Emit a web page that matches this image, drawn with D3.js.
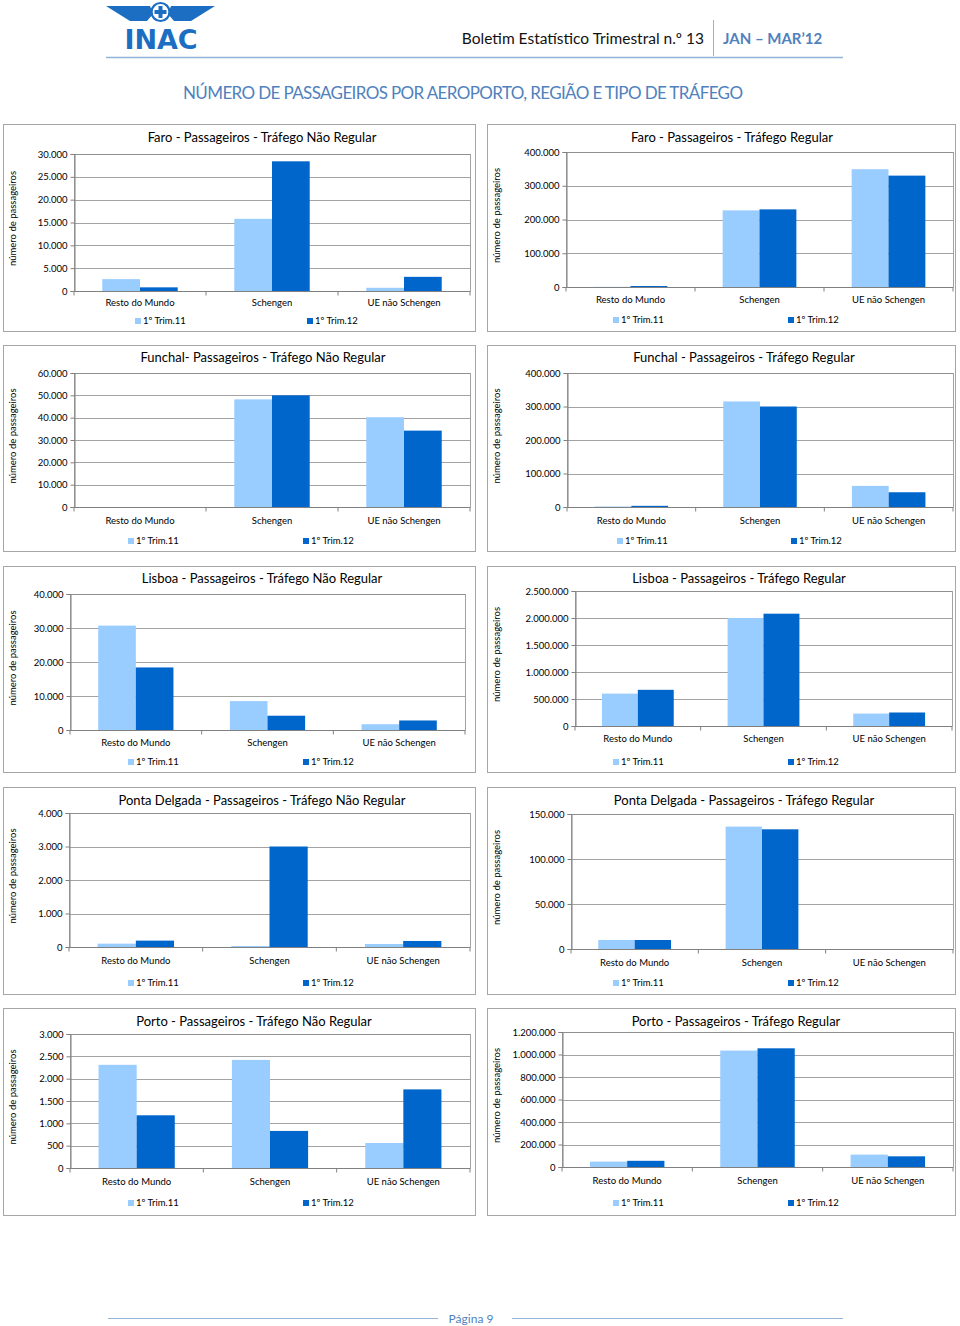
<!DOCTYPE html>
<html><head><meta charset="utf-8">
<script src="https://cdn.jsdelivr.net/npm/d3@7"></script>
<style>body{margin:0;background:#fff} svg{display:block} text{font-family:Lato,"Open Sans",sans-serif}</style>
</head><body><svg id="page" width="960" height="1326"></svg>
<script>
// ---------- DATA ----------
const categories = ["Resto do Mundo", "Schengen", "UE não Schengen"];
const seriesNames = ["1º Trim.11", "1º Trim.12"];
const chartTitles = [
  "Faro - Passageiros - Tráfego Não Regular",
  "Faro - Passageiros - Tráfego Regular",
  "Funchal- Passageiros - Tráfego Não Regular",
  "Funchal - Passageiros - Tráfego Regular",
  "Lisboa - Passageiros - Tráfego Não Regular",
  "Lisboa - Passageiros - Tráfego Regular",
  "Ponta Delgada - Passageiros - Tráfego Não Regular",
  "Ponta Delgada - Passageiros - Tráfego Regular",
  "Porto - Passageiros - Tráfego Não Regular",
  "Porto - Passageiros - Tráfego Regular"
];
// values per category: [Resto do Mundo, Schengen, UE não Schengen]
const faroNaoRegular11 = [2600, 15800, 700];
const faroNaoRegular12 = [800, 28400, 3100];
const faroRegular11 = [500, 227000, 349000];
const faroRegular12 = [3000, 230000, 330000];
const funchalNaoRegular11 = [0, 48200, 40200];
const funchalNaoRegular12 = [0, 50000, 34200];
const funchalRegular11 = [1500, 315000, 63000];
const funchalRegular12 = [3500, 300000, 44000];
const lisboaNaoRegular11 = [30700, 8500, 1700];
const lisboaNaoRegular12 = [18400, 4200, 2800];
const lisboaRegular11 = [600000, 2000000, 230000];
const lisboaRegular12 = [670000, 2080000, 250000];
const pdNaoRegular11 = [100, 30, 90];
const pdNaoRegular12 = [190, 3000, 180];
const pdRegular11 = [10000, 136000, 0];
const pdRegular12 = [10000, 133000, 0];
const portoNaoRegular11 = [2310, 2420, 560];
const portoNaoRegular12 = [1180, 830, 1760];
const portoRegular11 = [48000, 1035000, 110000];
const portoRegular12 = [55000, 1055000, 95000];
const yAxisMax = [30000, 400000, 60000, 400000, 40000, 2500000, 4000, 150000, 3000, 1200000];
const yAxisStep = [5000, 100000, 10000, 100000, 10000, 500000, 1000, 50000, 500, 200000];
const yAxisTitle = "número de passageiros";

const chartSeries = [
  [faroNaoRegular11, faroNaoRegular12], [faroRegular11, faroRegular12],
  [funchalNaoRegular11, funchalNaoRegular12], [funchalRegular11, funchalRegular12],
  [lisboaNaoRegular11, lisboaNaoRegular12], [lisboaRegular11, lisboaRegular12],
  [pdNaoRegular11, pdNaoRegular12], [pdRegular11, pdRegular12],
  [portoNaoRegular11, portoNaoRegular12], [portoRegular11, portoRegular12]
];

// ---------- LAYOUT ----------
const layout = [
  {box:[3,124,475,331], plot:[74,154,470,291], tx:262, ty:137, cy:303, ly:321, lx:[135,307]},
  {box:[487,124,955,331], plot:[566,152,953,287], tx:732, ty:137, cy:300, ly:320, lx:[613,788]},
  {box:[3,345,475,551], plot:[74,373,470,507], tx:263, ty:357, cy:521, ly:541, lx:[128,303]},
  {box:[487,345,955,551], plot:[567,373,953,507], tx:744, ty:357, cy:521, ly:541, lx:[617,791]},
  {box:[3,566,475,772], plot:[70,594,465,730], tx:262, ty:578, cy:743, ly:762, lx:[128,303]},
  {box:[487,566,955,772], plot:[575,591,952,726], tx:739, ty:578, cy:739, ly:762, lx:[613,788]},
  {box:[3,787,475,994], plot:[69,813,470,947], tx:262, ty:800, cy:961, ly:983, lx:[128,303]},
  {box:[487,787,955,994], plot:[571,814,953,949], tx:744, ty:800, cy:963, ly:983, lx:[613,788]},
  {box:[3,1008,475,1215], plot:[70,1034,470,1168], tx:254, ty:1021, cy:1182, ly:1203, lx:[128,303]},
  {box:[487,1008,955,1215], plot:[562,1032,953,1167], tx:736, ty:1021, cy:1181, ly:1203, lx:[613,788]}
];
const colors = ["#99CCFF", "#0066CC"];
const blue = "#4F81BD";

const loc = d3.formatLocale({decimal: ",", thousands: ".", grouping: [3], currency: ["", ""]});
const fmt = loc.format(",d");

const svg = d3.select("#page");

// ---------- HEADER ----------
const logo = svg.append("g").attr("fill", "#1C6EC2");
logo.append("path").attr("d", "M106,6 L150,6 L153,14 L147,21 L130,21 Z");
logo.append("path").attr("d", "M215,6 L171,6 L168,14 L174,21 L191,21 Z");
logo.append("circle").attr("cx", 160.5).attr("cy", 12).attr("r", 9).attr("fill", "none").attr("stroke", "#1C6EC2").attr("stroke-width", 2.2);
logo.append("path").attr("d", "M158.5,6 h4 v4 h4 v4 h-4 v4 h-4 v-4 h-4 v-4 h4 Z");
logo.append("text").attr("x", 161).attr("y", 49).attr("text-anchor", "middle")
  .style("font-family", "'DejaVu Sans', sans-serif").style("font-weight", "bold").style("font-size", "27px")
  .attr("textLength", 73).text("INAC");

svg.append("text").attr("x", 704).attr("y", 44).attr("text-anchor", "end")
  .style("font-size", "15.5px").attr("fill", "#111").text("Boletim Estatístico Trimestral n.º 13");
svg.append("line").attr("x1", 713.5).attr("x2", 713.5).attr("y1", 20).attr("y2", 56).attr("stroke", "#95B3D7");
svg.append("text").attr("x", 723).attr("y", 44)
  .style("font-size", "15px").style("font-weight", "bold").attr("fill", blue).text("JAN – MAR’12");
svg.append("line").attr("x1", 106).attr("x2", 843).attr("y1", 57.5).attr("y2", 57.5).attr("stroke", "#95B3D7").attr("stroke-width", 1.5);

svg.append("text").attr("x", 463).attr("y", 99).attr("text-anchor", "middle")
  .style("font-size", "17px").attr("fill", blue).attr("textLength", 560)
  .text("NÚMERO DE PASSAGEIROS POR AEROPORTO, REGIÃO E TIPO DE TRÁFEGO");

// ---------- CHARTS ----------
chartSeries.forEach((series, i) => {
  const L = layout[i];
  const [bx0, by0, bx1, by1] = L.box;
  const [l, t, r, b] = L.plot;
  const g = svg.append("g");
  g.append("rect").attr("x", bx0 + 0.5).attr("y", by0 + 0.5).attr("width", bx1 - bx0).attr("height", by1 - by0)
    .attr("fill", "#fff").attr("stroke", "#A6A6A6");

  const y = d3.scaleLinear().domain([0, yAxisMax[i]]).range([b, t]);
  const x0 = d3.scaleBand().domain(categories).range([l, r]);
  const bw = x0.bandwidth() / 3.5;
  const x1 = d3.scaleBand().domain(seriesNames).range([0.75 * bw, 2.75 * bw]);
  const tickVals = d3.range(0, yAxisMax[i] + yAxisStep[i] / 2, yAxisStep[i]);

  // gridlines
  g.append("g").selectAll("line").data(tickVals.slice(1)).join("line")
    .attr("x1", l).attr("x2", r).attr("y1", d => Math.round(y(d)) + 0.5).attr("y2", d => Math.round(y(d)) + 0.5)
    .attr("stroke", "#8C8C8C").attr("stroke-width", 0.8);
  // plot frame
  g.append("rect").attr("x", l + 0.5).attr("y", t + 0.5).attr("width", r - l).attr("height", b - t)
    .attr("fill", "none").attr("stroke", "#8C8C8C").attr("stroke-width", 0.8);

  // bars
  categories.forEach((c, ci) => {
    series.forEach((vals, si) => {
      g.append("rect")
        .attr("x", x0(c) + x1(seriesNames[si]))
        .attr("y", y(vals[ci]))
        .attr("width", x1.bandwidth())
        .attr("height", b - y(vals[ci]))
        .attr("fill", colors[si]);
    });
  });

  // y axis
  const ya = g.append("g").attr("transform", `translate(${l + 0.5},0)`)
    .call(d3.axisLeft(y).tickValues(tickVals).tickFormat(fmt).tickSize(4).tickPadding(3));
  ya.select(".domain").attr("stroke", "#808080");
  ya.selectAll(".tick line").attr("stroke", "#808080");
  ya.selectAll(".tick text").style("font-size", "9.5px").style("font-family", "Lato, sans-serif").attr("fill", "#000");

  // x axis
  const xa = g.append("g").attr("transform", `translate(0,${b + 0.5})`);
  xa.append("line").attr("x1", l).attr("x2", r).attr("stroke", "#808080");
  xa.selectAll("line.tk").data(d3.range(0, categories.length + 1)).join("line").attr("class", "tk")
    .attr("x1", k => l + k * x0.bandwidth()).attr("x2", k => l + k * x0.bandwidth())
    .attr("y1", 0).attr("y2", 4).attr("stroke", "#808080");
  g.selectAll("text.cat").data(categories).join("text").attr("class", "cat")
    .attr("x", c => x0(c) + x0.bandwidth() / 2).attr("y", L.cy).attr("dy", "0.35em")
    .attr("text-anchor", "middle").style("font-size", "9.5px").text(c => c);

  // title
  g.append("text").attr("x", L.tx).attr("y", L.ty).attr("dy", "0.35em").attr("text-anchor", "middle")
    .style("font-size", "13px").text(chartTitles[i]);

  // y title
  const ytx = bx0 + 10;
  const yty = (t + b) / 2 - 4;
  g.append("text").attr("transform", `translate(${ytx},${yty}) rotate(-90)`).attr("dy", "0.35em")
    .attr("text-anchor", "middle").style("font-size", "9.5px").text(yAxisTitle);

  // legend
  seriesNames.forEach((s, si) => {
    g.append("rect").attr("x", L.lx[si]).attr("y", L.ly - 3).attr("width", 6).attr("height", 6).attr("fill", colors[si]);
    g.append("text").attr("x", L.lx[si] + 8).attr("y", L.ly).attr("dy", "0.35em")
      .style("font-size", "9.5px").text(s);
  });
});

// ---------- FOOTER ----------
svg.append("line").attr("x1", 108).attr("x2", 438).attr("y1", 1318.5).attr("y2", 1318.5).attr("stroke", "#95B3D7");
svg.append("line").attr("x1", 512).attr("x2", 843).attr("y1", 1318.5).attr("y2", 1318.5).attr("stroke", "#95B3D7");
svg.append("text").attr("x", 471).attr("y", 1319).attr("dy", "0.35em").attr("text-anchor", "middle")
  .style("font-size", "12px").attr("fill", blue).text("Página 9");
</script></body></html>
